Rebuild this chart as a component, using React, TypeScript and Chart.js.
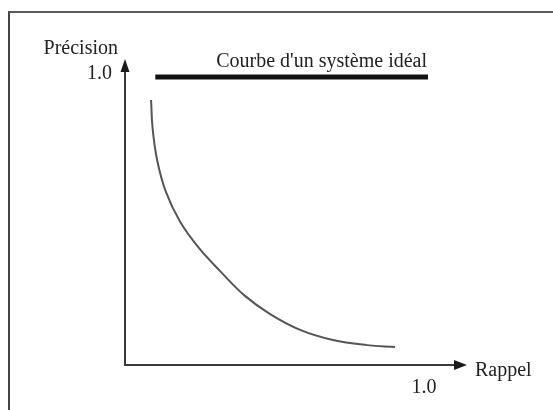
import React, { useEffect, useRef } from "react";
import { Chart, registerables } from "chart.js";

Chart.register(...registerables);

// Recall (x) / precision (y) values
const curveRecall = [0.086, 0.091, 0.106, 0.135, 0.182, 0.241, 0.314, 0.396, 0.479, 0.578, 0.686, 0.799, 0.891];
const curvePrecision = [0.92, 0.823, 0.712, 0.601, 0.497, 0.41, 0.326, 0.24, 0.177, 0.122, 0.087, 0.069, 0.0625];

const idealRecall = [0.1, 1.0];
const idealPrecision = [1.0, 1.0];

const xAxisTitle = "Rappel";
const yAxisTitle = "Précision";
const xTickLabels = ["1.0"];
const xTickValues = [1.0];
const yTickLabels = ["1.0"];
const yTickValues = [1.0];
const idealLabel = "Courbe d'un système idéal";

const X_MAX = 1.1287;
const Y_MAX = 1.0625;

const FONT = '20px "Liberation Serif", "Times New Roman", serif';
const TEXT_COLOR = "#222222";

const axesPlugin = {
  id: "arrowAxes",
  afterDraw(chart: any) {
    const ctx = chart.ctx;
    const xs = chart.scales.x;
    const ys = chart.scales.y;
    const x0 = xs.getPixelForValue(0);
    const y0 = ys.getPixelForValue(0);
    const xEnd = xs.getPixelForValue(X_MAX);
    const yEnd = ys.getPixelForValue(Y_MAX);
    ctx.save();
    ctx.strokeStyle = "#3a3a3a";
    ctx.fillStyle = "#1a1a1a";
    ctx.lineWidth = 2;
    // y axis
    ctx.beginPath();
    ctx.moveTo(x0, y0 + 1);
    ctx.lineTo(x0, yEnd + 10);
    ctx.stroke();
    ctx.beginPath();
    ctx.moveTo(x0, yEnd);
    ctx.lineTo(x0 - 4.5, yEnd + 13);
    ctx.lineTo(x0 + 4.5, yEnd + 13);
    ctx.closePath();
    ctx.fill();
    // x axis
    ctx.beginPath();
    ctx.moveTo(x0 - 1, y0);
    ctx.lineTo(xEnd - 10, y0);
    ctx.stroke();
    ctx.beginPath();
    ctx.moveTo(xEnd, y0);
    ctx.lineTo(xEnd - 13, y0 - 5);
    ctx.lineTo(xEnd - 13, y0 + 5);
    ctx.closePath();
    ctx.fill();

    ctx.font = FONT;
    ctx.fillStyle = TEXT_COLOR;
    ctx.textBaseline = "alphabetic";
    // y title
    ctx.textAlign = "right";
    ctx.fillText(yAxisTitle, x0 - 7, yEnd - 5);
    // y tick labels
    yTickValues.forEach((v, i) => {
      ctx.fillText(yTickLabels[i], x0 - 13, ys.getPixelForValue(v) + 2);
    });
    // x title
    ctx.textAlign = "left";
    ctx.fillText(xAxisTitle, xEnd + 8, y0 + 11);
    // x tick labels
    ctx.textAlign = "center";
    xTickValues.forEach((v, i) => {
      ctx.fillText(xTickLabels[i], xs.getPixelForValue(v) - 4, y0 + 28);
    });
    // ideal label
    ctx.textAlign = "right";
    ctx.fillText(
      idealLabel,
      xs.getPixelForValue(idealRecall[1]) - 1,
      ys.getPixelForValue(idealPrecision[1]) - 10
    );
    ctx.restore();
  },
};

export default function App() {
  const ref = useRef<HTMLCanvasElement | null>(null);
  useEffect(() => {
    if (!ref.current) return;
    const chart = new Chart(ref.current, {
      type: "scatter",
      data: {
        datasets: [
          {
            label: "courbe",
            data: curveRecall.map((x, i) => ({ x, y: curvePrecision[i] })),
            showLine: true,
            borderColor: "#555555",
            borderWidth: 2,
            pointRadius: 0,
            tension: 0.4,
            clip: false,
          } as any,
          {
            label: "idéal",
            data: idealRecall.map((x, i) => ({ x, y: idealPrecision[i] })),
            showLine: true,
            borderColor: "#111111",
            borderWidth: 5,
            pointRadius: 0,
            clip: false,
          } as any,
        ],
      },
      options: {
        responsive: false,
        animation: false,
        devicePixelRatio: 1,
        layout: { padding: { left: 125, right: 86, top: 59, bottom: 45 } },
        plugins: { legend: { display: false }, tooltip: { enabled: false } },
        scales: {
          x: { type: "linear", min: 0, max: X_MAX, display: false },
          y: { type: "linear", min: 0, max: Y_MAX, display: false },
        },
      },
      plugins: [axesPlugin],
    });
    return () => chart.destroy();
  }, []);

  return (
    <div
      style={{
        position: "fixed",
        left: 0,
        top: 0,
        width: 553,
        height: 410,
        background: "#ffffff",
        overflow: "hidden",
      }}
    >
      <div
        style={{
          position: "absolute",
          left: 8,
          top: 11,
          width: 560,
          height: 420,
          borderTop: "2px solid #5a5a5a",
          borderLeft: "2px solid #444444",
        }}
      />
      <canvas
        ref={ref}
        width={553}
        height={410}
        style={{ position: "absolute", left: 0, top: 0, width: 553, height: 410 }}
      />
    </div>
  );
}
